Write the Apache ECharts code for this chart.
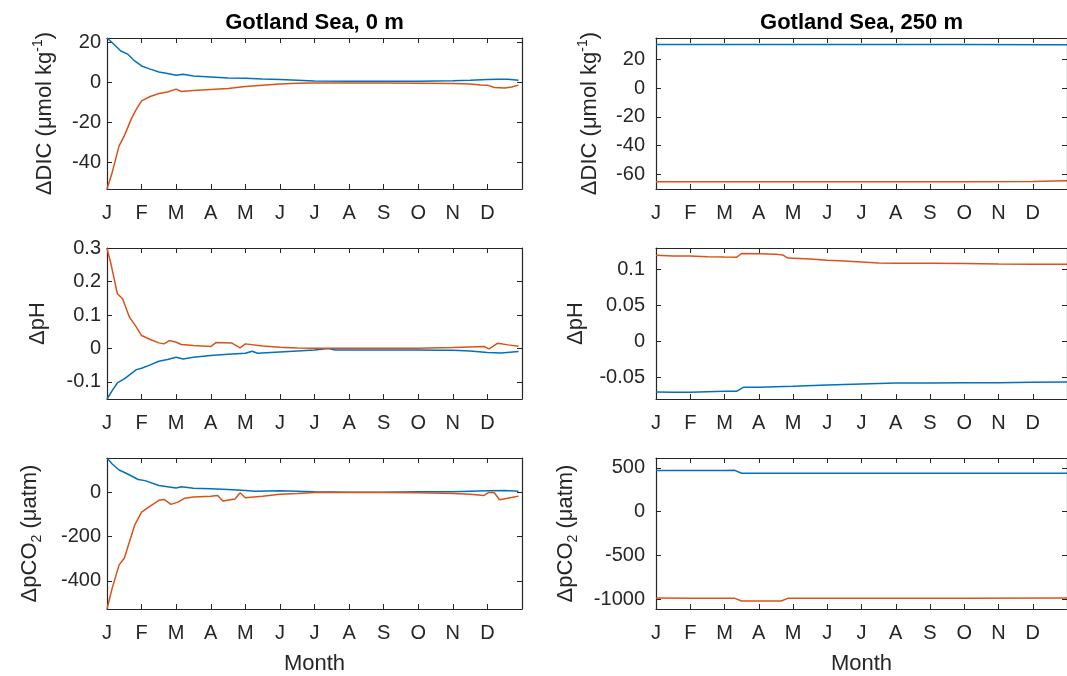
<!DOCTYPE html>
<html>
<head>
<meta charset="utf-8">
<script src="https://cdn.jsdelivr.net/npm/echarts@6/dist/echarts.min.js"></script>
<style>
html,body{margin:0;padding:0;background:#fff;}
#chart{width:1067px;height:676px;}
</style>
</head>
<body>
<div id="chart"></div>
<script>
// month letters on the x axis (x = months since 1 Jan)
var monthLabels = ['J','F','M','A','M','J','J','A','S','O','N','D'];
var monthTicks = [0,1,2,3,4,5,6,7,8,9,10,11];

// y tick labels
var dic0Ticks = [-40,-20,0,20];
var dic250Ticks = [-60,-40,-20,0,20];
var ph0Ticks = [-0.1,0,0.1,0.2,0.3];
var ph250Ticks = [-0.05,0,0.05,0.1];
var pco0Ticks = [-400,-200,0];
var pco250Ticks = [-1000,-500,0,500];

// Gotland Sea 0 m, DIC
var dic0BlueM = [0,0.1,0.25,0.4,0.6,0.8,1,1.25,1.5,1.75,2,2.2,2.5,3,3.5,4,4.5,5,5.5,6,7,8,9,10,10.5,11,11.3,11.6,11.9];
var dic0BlueV = [22.3,20.8,18.3,15.8,14.2,10.8,8.3,6.7,5.3,4.5,3.7,4.2,3.3,2.8,2.3,2.2,1.8,1.5,1.2,0.8,0.7,0.7,0.7,0.9,1.1,1.5,1.7,1.7,1.2];
var dic0RedM = [0,0.15,0.35,0.5,0.7,0.85,1,1.25,1.5,1.75,2,2.15,2.5,3,3.5,4,4.5,5,5.5,6,7,8,9,10,10.5,10.8,11,11.2,11.5,11.7,11.9];
var dic0RedV = [-53.3,-45,-31.7,-26.7,-18.3,-13.3,-9.2,-7,-5.5,-4.7,-3.3,-4.5,-4,-3.5,-3,-2,-1.3,-0.7,-0.3,-0.2,-0.2,-0.2,-0.3,-0.5,-0.7,-1.2,-1.3,-2.5,-2.7,-2.2,-1.3];

// Gotland Sea 250 m, DIC
var dic250BlueM = [0,3,6,9,11.5,12];
var dic250BlueV = [30.2,30.2,30.2,30.2,30.1,30.1];
var dic250RedM = [0,3,6,9,11,11.6,12];
var dic250RedV = [-65.1,-65.1,-65.1,-65.1,-65.0,-64.6,-64.5];

// Gotland Sea 0 m, pH
var ph0RedM = [0,0.1,0.3,0.45,0.65,0.85,1,1.25,1.5,1.65,1.8,2,2.15,2.5,3,3.15,3.6,3.85,4,4.5,5,5.5,6,7,8,9,10,10.5,10.9,11.05,11.3,11.6,11.9];
var ph0RedV = [0.3,0.26,0.164,0.149,0.094,0.064,0.039,0.027,0.017,0.014,0.024,0.019,0.012,0.009,0.006,0.018,0.017,0.002,0.014,0.008,0.004,0.002,0.001,0.001,0.001,0.001,0.003,0.005,0.006,-0.001,0.016,0.011,0.007];
var ph0BlueM = [0,0.15,0.3,0.5,0.85,1,1.25,1.5,1.75,2,2.2,2.5,3,3.5,4,4.2,4.35,5,5.5,6,6.4,6.6,7,8,9,9.5,10,10.5,11,11.4,11.9];
var ph0BlueV = [-0.151,-0.126,-0.103,-0.091,-0.063,-0.059,-0.049,-0.038,-0.033,-0.026,-0.031,-0.026,-0.021,-0.017,-0.014,-0.008,-0.014,-0.01,-0.007,-0.004,0,-0.004,-0.004,-0.004,-0.004,-0.005,-0.005,-0.007,-0.012,-0.013,-0.009];

// Gotland Sea 250 m, pH
var ph250RedM = [0,0.5,1,1.5,2,2.35,2.5,3,3.5,3.7,3.85,4.5,5,5.5,6,6.5,7,8,9,10,11,12];
var ph250RedV = [0.1194,0.1185,0.1185,0.1176,0.117,0.1167,0.122,0.1218,0.1208,0.12,0.1157,0.1144,0.1125,0.1116,0.1102,0.1088,0.1083,0.1083,0.108,0.1074,0.107,0.107];
var ph250BlueM = [0,0.5,1,1.5,2,2.35,2.55,3,3.5,4,5,6,7,8,9,10,11,12];
var ph250BlueV = [-0.0699,-0.0704,-0.0704,-0.0694,-0.069,-0.069,-0.0634,-0.0634,-0.0625,-0.062,-0.0602,-0.0588,-0.0574,-0.0574,-0.057,-0.057,-0.0565,-0.056];

// Gotland Sea 0 m, pCO2
var pco0BlueM = [0,0.15,0.35,0.6,0.9,1.1,1.5,2,2.15,2.5,3,3.5,4,4.3,5,5.5,6,7,8,9,10,10.5,11,11.5,11.9];
var pco0BlueV = [154,127,100,82,57,52,30,19,24,18,15,12,7.5,4.5,6,4.5,1.5,0,0,1.5,1.5,4.5,6,7.5,4.5];
var pco0RedM = [0,0.15,0.35,0.5,0.8,1,1.25,1.5,1.65,1.85,2.05,2.25,2.5,3,3.2,3.35,3.7,3.85,4,4.5,5,5.5,6,7,8,9,10,10.5,10.9,11.05,11.2,11.35,11.7,11.9];
var pco0RedV = [-527,-433,-328,-298,-149,-90,-63,-37,-33,-55,-45,-27,-22,-18,-15,-40,-31,-3,-25,-18,-10,-6,-1.5,-1.5,-1.5,-3,-6,-10,-15,0,-3,-34,-24,-18];

// Gotland Sea 250 m, pCO2
var pco250BlueM = [0,1,2,2.3,2.5,4,6,8,10,12];
var pco250BlueV = [470,470,470,473,439,439,440,440,439,439];
var pco250RedM = [0,1,2,2.3,2.5,3,3.65,3.85,6,9,12];
var pco250RedV = [-989,-990,-991,-992,-1023,-1023,-1023,-992,-992,-991,-989];

var FONT = '"Liberation Sans", Arial, Helvetica, sans-serif';
var INK = '#262626';
var BLUE = '#0072BD';
var RED = '#D95319';

function zip(m, v){
  var out = [];
  for (var i = 0; i < m.length; i++) out.push([m[i], v[i]]);
  return out;
}

var nameRich = {
  n: {fontSize: 22, color: INK, fontFamily: FONT, lineHeight: 28},
  sup: {fontSize: 14, color: INK, fontFamily: FONT, lineHeight: 28, verticalAlign: 'top'},
  sub: {fontSize: 14, color: INK, fontFamily: FONT, lineHeight: 28, verticalAlign: 'bottom'}
};
var dicName = '{n|ΔDIC (μmol kg}{sup|-1}{n|)}';
var phName = '{n|ΔpH}';
var pcoName = '{n|ΔpCO}{sub|2}{n| (μatm)}';

var L = 107, R = 656, W = 415;
var panels = [
  {left: L, top: 38,  min: -53.3, max: 22.3, ticks: dic0Ticks, name: dicName, gap: 48, lm: 6, title: 'Gotland Sea, 0 m', blue: zip(dic0BlueM, dic0BlueV), red: zip(dic0RedM, dic0RedV)},
  {left: R, top: 38,  min: -70.2, max: 34.8, ticks: dic250Ticks, name: dicName, gap: 52, lm: 11, title: 'Gotland Sea, 250 m', blue: zip(dic250BlueM, dic250BlueV), red: zip(dic250RedM, dic250RedV)},
  {left: L, top: 248, min: -0.151, max: 0.301, ticks: ph0Ticks, name: phName, gap: 55, lm: 6, blue: zip(ph0BlueM, ph0BlueV), red: zip(ph0RedM, ph0RedV)},
  {left: R, top: 248, min: -0.0796, max: 0.1296, ticks: ph250Ticks, name: phName, gap: 66, lm: 11, blue: zip(ph250BlueM, ph250BlueV), red: zip(ph250RedM, ph250RedV)},
  {left: L, top: 458, min: -527, max: 154, ticks: pco0Ticks, name: pcoName, gap: 63, lm: 6, blue: zip(pco0BlueM, pco0BlueV), red: zip(pco0RedM, pco0RedV), month: true},
  {left: R, top: 458, min: -1114, max: 614, ticks: pco250Ticks, name: pcoName, gap: 76, lm: 11, blue: zip(pco250BlueM, pco250BlueV), red: zip(pco250RedM, pco250RedV), month: true}
];

var grids = [], xAxes = [], yAxes = [], series = [];
var line = {show: true, onZero: false, lineStyle: {color: INK, width: 1.2}};
var tickIn = {inside: true, length: 5, lineStyle: {color: INK, width: 1}};

panels.forEach(function(p, i){
  grids.push({left: p.left, top: p.top, width: W, height: 151, containLabel: false});

  xAxes.push({
    type: 'value', gridIndex: i, min: 0, max: 12, position: 'bottom',
    axisLine: line, splitLine: {show: false},
    axisTick: Object.assign({customValues: monthTicks}, tickIn),
    axisLabel: {customValues: monthTicks, color: INK, fontSize: 20, fontFamily: FONT, margin: 14,
      formatter: function(v){ return monthLabels[v]; }},
    name: p.month ? 'Month' : '', nameLocation: 'middle', nameGap: 44,
    nameTextStyle: {color: INK, fontSize: 22, fontFamily: FONT}
  });
  // top edge of the box; carries the panel title
  xAxes.push({
    type: 'value', gridIndex: i, min: 0, max: 12, position: 'top',
    axisLine: line, splitLine: {show: false},
    axisTick: Object.assign({customValues: monthTicks}, tickIn),
    axisLabel: {show: false},
    name: p.title || '', nameLocation: 'middle', nameGap: 4,
    nameTextStyle: {color: '#000', fontSize: 22, fontWeight: 'bold', fontFamily: FONT}
  });

  yAxes.push({
    type: 'value', gridIndex: i, min: p.min, max: p.max, position: 'left',
    axisLine: line, splitLine: {show: false},
    axisTick: Object.assign({customValues: p.ticks}, tickIn),
    axisLabel: {customValues: p.ticks, color: INK, fontSize: 20, fontFamily: FONT, margin: p.lm,
      formatter: function(v){ return String(v); }},
    name: p.name, nameLocation: 'middle', nameRotate: 90, nameGap: p.gap,
    nameTextStyle: {rich: nameRich}
  });
  yAxes.push({
    type: 'value', gridIndex: i, min: p.min, max: p.max, position: 'right',
    axisLine: line, splitLine: {show: false},
    axisTick: Object.assign({customValues: p.ticks}, tickIn),
    axisLabel: {show: false}
  });

  series.push({type: 'line', xAxisIndex: 2 * i, yAxisIndex: 2 * i, data: p.blue,
    showSymbol: false, lineStyle: {color: BLUE, width: 1.5}, itemStyle: {color: BLUE}});
  series.push({type: 'line', xAxisIndex: 2 * i, yAxisIndex: 2 * i, data: p.red,
    showSymbol: false, lineStyle: {color: RED, width: 1.5}, itemStyle: {color: RED}});
});

var chart = echarts.init(document.getElementById('chart'), null, {renderer: 'canvas'});
chart.setOption({
  animation: false,
  backgroundColor: '#fff',
  grid: grids,
  xAxis: xAxes,
  yAxis: yAxes,
  series: series
});
</script>
</body>
</html>
